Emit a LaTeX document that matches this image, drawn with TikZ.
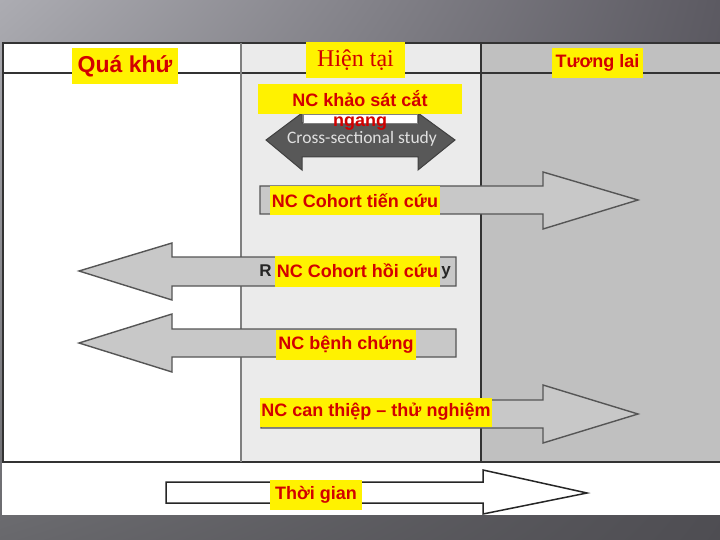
\documentclass[tikz,border=0pt]{standalone}
\usepackage{fontspec}
\setmainfont{Liberation Sans}
\newfontfamily\timesfont{Liberation Serif}
\newfontfamily\csfont{Carlito}
\usetikzlibrary{positioning,shadings}
\definecolor{labred}{RGB}{210,0,0}
\definecolor{nowgray}{RGB}{235,235,235}
\definecolor{futgray}{RGB}{192,192,192}
\definecolor{arrgray}{RGB}{200,200,200}
\definecolor{edgegray}{RGB}{85,85,85}
\definecolor{darkarr}{RGB}{88,88,88}
\definecolor{bgul}{RGB}{172,172,178}
\definecolor{bgur}{RGB}{92,90,98}
\definecolor{bgll}{RGB}{104,104,108}
\definecolor{bglr}{RGB}{78,77,82}

\begin{document}
\begin{tikzpicture}[x=1pt,y=-1pt,
  ybox/.style={fill=yellow,text=labred,font=\bfseries\fontsize{18}{20}\selectfont,inner sep=1pt,minimum height=29pt},
  barrow/.style={fill=arrgray,draw=edgegray,line width=1.4pt},
  tline/.style={draw=black!80,line width=2pt},
  frag/.style={text=black!85,font=\bfseries\fontsize{17}{20}\selectfont,inner sep=0pt}]
  \useasboundingbox (0,0) rectangle (720,540);
  \shade[upper left=bgul,upper right=bgur,lower left=bgll,lower right=bglr] (0,0) rectangle (720,540);
  \fill[white] (2,43) rectangle (720,515);
  \fill[nowgray] (241,43) rectangle (481,462);
  \fill[futgray] (481,43) rectangle (720,462);
  \draw[tline] (2,43) -- (720,43);
  \draw[tline] (2,73) -- (720,73);
  \draw[tline] (2,462) -- (720,462);
  \draw[tline] (3,43) -- (3,462);
  \draw[tline,draw=gray] (241,43) -- (241,462);
  \draw[tline] (481,43) -- (481,462);

  \draw[fill=darkarr,draw=black!75,line width=1pt] (266,140) -- (302,113) -- (302,123) -- (418,123) -- (418,113)
    -- (455,140) -- (418,170) -- (418,157) -- (302,157) -- (302,170) -- cycle;
  \draw[fill=white,draw=gray] (303,114) rectangle (417,123);
  \node[text=black!12,font=\csfont\fontsize{17.5}{18}\selectfont,inner sep=0pt] (cs) at (362,139) {Cross-sectional study};

  \draw[barrow] (260,186) -- (543,186) -- (543,172) -- (638,200) -- (543,229) -- (543,214) -- (260,214) -- cycle;
  \draw[barrow] (456,257) -- (172,257) -- (172,243) -- (79,271) -- (172,300) -- (172,286) -- (456,286) -- cycle;
  \draw[barrow] (456,329) -- (172,329) -- (172,314) -- (79,343) -- (172,372) -- (172,357) -- (456,357) -- cycle;
  \draw[barrow] (261,400) -- (543,400) -- (543,385) -- (638,414) -- (543,443) -- (543,428) -- (261,428) -- cycle;
  \draw[fill=white,draw=black!85,line width=1.5pt] (166,482) -- (483,482) -- (483,470) -- (587,493) -- (483,514)
    -- (483,503) -- (166,503) -- cycle;

  \node[frag] (ry) at (446,273) {y};
  \node[ybox,font=\bfseries\fontsize{23}{26}\selectfont,minimum width=106pt,minimum height=36pt] (past) at (125,66) {Quá khứ};
  \node[ybox,font=\timesfont\fontsize{24}{26}\selectfont,minimum width=99pt,minimum height=36pt] (now) at (355.5,60) {Hiện tại};
  \node[ybox,minimum width=91pt,minimum height=30pt] (future) at (597.5,63) {Tương lai};
  \node[ybox,minimum width=204pt,minimum height=30pt] (cross) at (360,99) {NC khảo sát cắt};
  \node[text=labred,font=\bfseries\fontsize{18}{20}\selectfont,inner sep=0pt,below=2pt of cross] (cross2) {ngang};
  \node[ybox,minimum width=170pt] (pro) at (355,200.5) {NC Cohort tiến cứu};
  \node[ybox,minimum width=165pt,minimum height=31pt] (retro) at (357.5,271) {NC Cohort hồi cứu};
  \node[frag,left=3pt of retro] (rr) {R};
  \node[ybox,minimum width=140pt,minimum height=30pt] (cc) at (346,345) {NC bệnh chứng};
  \node[ybox,minimum width=226pt] (trial) at (376,412) {NC can thiệp – thử nghiệm};
  \node[ybox,minimum width=92pt,minimum height=30pt] (time) at (316,495) {Thời gian};
\end{tikzpicture}
\end{document}
